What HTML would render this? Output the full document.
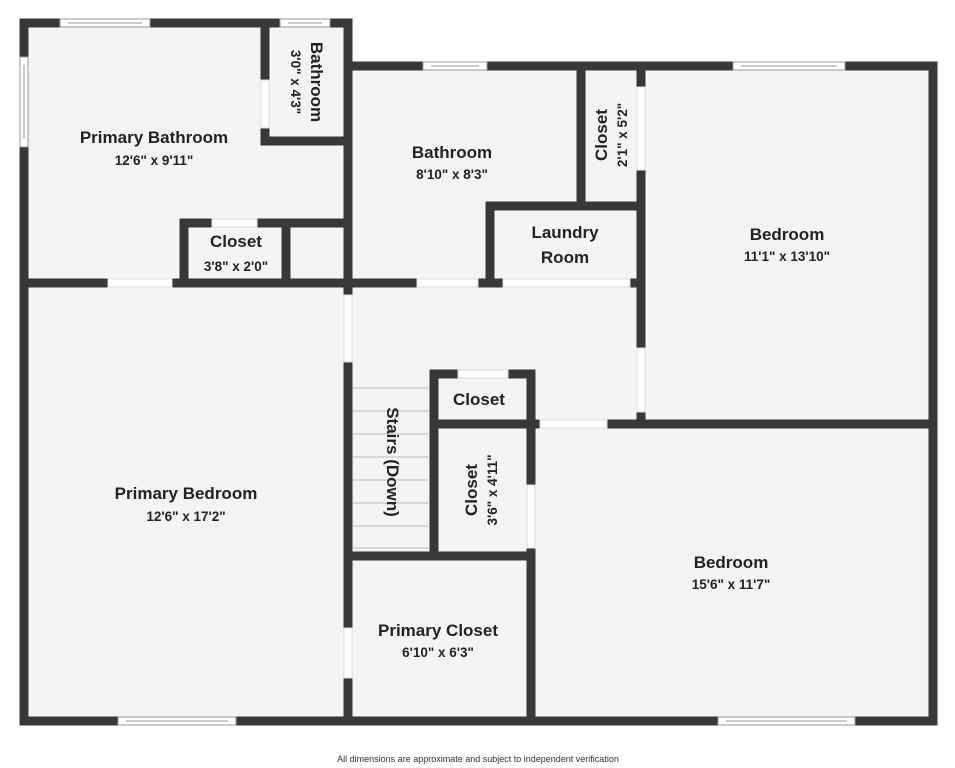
<!DOCTYPE html>
<html><head><meta charset="utf-8"><style>
html,body{margin:0;padding:0;background:#fff}
svg{display:block}
text{font-family:"Liberation Sans","DejaVu Sans",sans-serif;fill:#222;text-anchor:middle}
.n{font-size:17px;font-weight:bold}
.d{font-size:13.5px;font-weight:bold}
</style></head><body>
<svg width="955" height="768" viewBox="0 0 955 768">
<rect width="955" height="768" fill="#fff"/>
<!-- floors -->
<g fill="#f4f4f4">
<rect x="24" y="23" width="324" height="698"/>
<rect x="348" y="66" width="585" height="655"/>
</g>
<!-- walls -->
<g stroke="#383838" stroke-width="9" stroke-linecap="square" fill="none">
<path d="M24 23 H348 V66 H933 V721 H24 Z"/>
<path d="M348 66 V721"/>
<path d="M265 23 V141 H348"/>
<path d="M24 283 H641"/>
<path d="M184 223 H348 M184 223 V283 M286 223 V283"/>
<path d="M581 66 V206 M641 66 V424 M490 206 H641 M490 206 V283"/>
<path d="M531 424 H933"/>
<path d="M434 374 H531 V721 M434 374 V556 M434 424 H531 M348 556 H531"/>
</g>
<!-- door openings -->
<g fill="#fff" stroke="#ddd" stroke-width="1">
<rect x="261" y="80" width="8" height="48"/>
<rect x="108" y="279" width="64" height="8"/>
<rect x="417" y="279" width="61" height="8"/>
<rect x="503" y="279" width="127" height="8"/>
<rect x="212" y="219" width="45" height="8"/>
<rect x="637" y="87" width="8" height="83"/>
<rect x="637" y="348" width="8" height="64"/>
<rect x="540" y="420" width="67" height="8"/>
<rect x="344" y="295" width="8" height="67"/>
<rect x="458" y="370" width="50" height="8"/>
<rect x="527" y="485" width="8" height="63"/>
<rect x="344" y="628" width="8" height="50"/>
</g>
<!-- windows -->
<g fill="#fff" stroke="#999" stroke-width="1">
<rect x="60" y="19" width="90" height="8"/><line x1="68" y1="23" x2="142" y2="23"/>
<rect x="280" y="19" width="50" height="8"/><line x1="288" y1="23" x2="322" y2="23"/>
<rect x="20" y="57" width="8" height="90"/><line x1="24" y1="65" x2="24" y2="139"/>
<rect x="423" y="62" width="64" height="8"/><line x1="431" y1="66" x2="479" y2="66"/>
<rect x="733" y="62" width="112" height="8"/><line x1="741" y1="66" x2="837" y2="66"/>
<rect x="118" y="717" width="118" height="8"/><line x1="126" y1="721" x2="228" y2="721"/>
<rect x="718" y="717" width="137" height="8"/><line x1="726" y1="721" x2="847" y2="721"/>
</g>
<!-- stairs -->
<g stroke="#bbb" stroke-width="1">
<line x1="353" y1="388" x2="430" y2="388"/><line x1="353" y1="411" x2="430" y2="411"/>
<line x1="353" y1="434" x2="430" y2="434"/><line x1="353" y1="457" x2="430" y2="457"/>
<line x1="353" y1="480" x2="430" y2="480"/><line x1="353" y1="503" x2="430" y2="503"/>
<line x1="353" y1="526" x2="430" y2="526"/><line x1="353" y1="548" x2="430" y2="548"/>
</g>
<!-- labels -->
<text class="n" x="154" y="143">Primary Bathroom</text>
<text class="d" x="154" y="165">12'6" x 9'11"</text>
<text class="n" transform="translate(311,82) rotate(90)" x="0" y="0">Bathroom</text>
<text class="d" transform="translate(291,82) rotate(90)" x="0" y="0">3'0" x 4'3"</text>
<text class="n" x="452" y="158">Bathroom</text>
<text class="d" x="452" y="179">8'10" x 8'3"</text>
<text class="n" transform="translate(607,135) rotate(-90)">Closet</text>
<text class="d" transform="translate(627,135) rotate(-90)">2'1" x 5'2"</text>
<text class="n" x="565" y="238">Laundry</text>
<text class="n" x="565" y="263">Room</text>
<text class="n" x="787" y="240">Bedroom</text>
<text class="d" x="787" y="261">11'1" x 13'10"</text>
<text class="n" x="236" y="247">Closet</text>
<text class="d" x="236" y="271">3'8" x 2'0"</text>
<text class="n" x="186" y="499">Primary Bedroom</text>
<text class="d" x="186" y="521">12'6" x 17'2"</text>
<text class="n" transform="translate(387,462) rotate(90)">Stairs (Down)</text>
<text class="n" x="479" y="405">Closet</text>
<text class="n" transform="translate(477,490) rotate(-90)">Closet</text>
<text class="d" transform="translate(497,490) rotate(-90)">3'6" x 4'11"</text>
<text class="n" x="731" y="568">Bedroom</text>
<text class="d" x="731" y="589">15'6" x 11'7"</text>
<text class="n" x="438" y="636">Primary Closet</text>
<text class="d" x="438" y="657">6'10" x 6'3"</text>
<text x="478" y="762" style="font-size:9px;fill:#333">All dimensions are approximate and subject to independent verification</text>
</svg>
</body></html>
